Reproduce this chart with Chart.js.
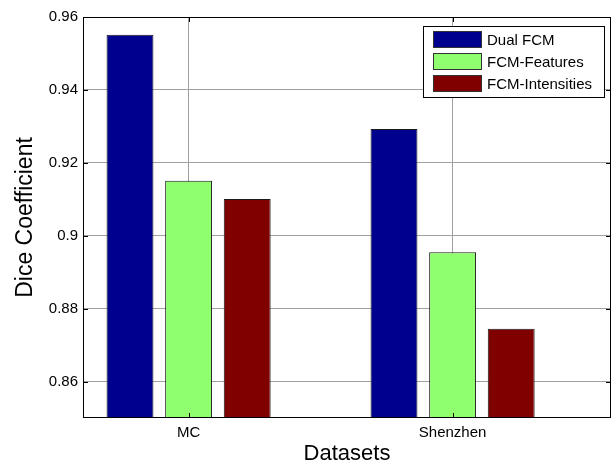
<!DOCTYPE html>
<html><head><meta charset="utf-8">
<script src="https://cdn.jsdelivr.net/npm/chart.js@4/dist/chart.umd.min.js"></script>
<style>html,body{margin:0;padding:0;background:#fff}</style>
</head><body>
<canvas id="c" width="616" height="467"></canvas>
<script>
const categories = ['MC', 'Shenzhen'];
const categoryPositions = [1, 2];
const seriesNames = ['Dual FCM', 'FCM-Features', 'FCM-Intensities'];
const dualFCM = [0.9551, 0.9293];
const fcmFeatures = [0.9151, 0.8955];
const fcmIntensities = [0.9101, 0.8745];
const yTickValues = [0.86, 0.88, 0.90, 0.92, 0.94, 0.96];
const yTickLabels = ['0.86', '0.88', '0.9', '0.92', '0.94', '0.96'];

const FONT = "'Liberation Sans', Arial, Helvetica, sans-serif";
const seriesColors = ['#00008F', '#8FFF70', '#800000'];
const seriesValues = [dualFCM, fcmFeatures, fcmIntensities];

const datasets = seriesNames.map((name, s) => ({
  label: name,
  data: categoryPositions.map((x, i) => ({ x: x, y: seriesValues[s][i] })),
  backgroundColor: seriesColors[s],
  borderColor: '#1a1a1a',
  borderWidth: 1,
  borderSkipped: 'start',
  categoryPercentage: 0.666,
  barPercentage: 0.8
}));

const framePlugin = {
  id: 'matlabFrame',
  afterDraw(chart) {
    const { ctx, chartArea } = chart;
    const L = Math.round(chartArea.left), R = Math.round(chartArea.right);
    const T = Math.round(chartArea.top), B = Math.round(chartArea.bottom);
    ctx.save();
    ctx.strokeStyle = '#000';
    ctx.lineWidth = 1;
    ctx.strokeRect(L + 0.5, T + 0.5, R - L - 1, B - T - 1);
    const tl = 5;
    ctx.beginPath();
    const ys = chart.scales.y;
    yTickValues.forEach(v => {
      const p = Math.round(ys.getPixelForValue(v)) + 0.5;
      ctx.moveTo(L, p); ctx.lineTo(L + tl, p);
      ctx.moveTo(R, p); ctx.lineTo(R - tl, p);
    });
    const xs = chart.scales.x;
    categoryPositions.forEach(v => {
      const p = Math.round(xs.getPixelForValue(v)) + 0.5;
      ctx.moveTo(p, B); ctx.lineTo(p, B - tl);
      ctx.moveTo(p, T); ctx.lineTo(p, T + tl);
    });
    ctx.stroke();

    // legend
    const lw = 181, lh = 71;
    const lx = R - 7 - lw, ly = T + 9;
    ctx.fillStyle = '#fff';
    ctx.fillRect(lx, ly, lw, lh);
    ctx.strokeStyle = '#000';
    ctx.strokeRect(lx + 0.5, ly + 0.5, lw, lh);
    ctx.font = '15px ' + FONT;
    ctx.textBaseline = 'middle';
    ctx.textAlign = 'left';
    chart.data.datasets.forEach((ds, i) => {
      const cy = ly + 13.5 + i * 22;
      ctx.fillStyle = ds.backgroundColor;
      ctx.fillRect(lx + 10, Math.round(cy - 8.5), 49, 17);
      ctx.strokeStyle = '#333';
      ctx.strokeRect(lx + 10.5, Math.round(cy - 8.5) + 0.5, 48, 16);
      ctx.fillStyle = '#000';
      ctx.fillText(ds.label, lx + 64, cy + 1);
    });
    ctx.restore();
  }
};

new Chart(document.getElementById('c'), {
  type: 'bar',
  data: { datasets },
  options: {
    responsive: false,
    animation: false,
    devicePixelRatio: 1,
    layout: { padding: { top: 17, right: 5, left: 0, bottom: 0 } },
    plugins: { legend: { display: false }, tooltip: { enabled: false } },
    scales: {
      x: {
        type: 'linear',
        min: 0.6,
        max: 2.6,
        offset: false,
        afterBuildTicks(scale) { scale.ticks = categoryPositions.map(v => ({ value: v })); },
        afterFit(scale) { scale.height = 49; },
        ticks: {
          color: '#000',
          padding: 6,
          font: { family: FONT, size: 15 },
          callback: (v, i) => categories[i]
        },
        grid: { color: '#a0a0a0', lineWidth: 1, drawTicks: false, offset: false },
        border: { display: false },
        title: {
          display: true, text: 'Datasets', color: '#000',
          font: { family: FONT, size: 22 }, padding: { top: 0, bottom: 0 }
        }
      },
      y: {
        type: 'linear',
        min: 0.85,
        max: 0.96,
        afterBuildTicks(scale) { scale.ticks = yTickValues.map(v => ({ value: v })); },
        afterFit(scale) { scale.width = 83; },
        ticks: {
          color: '#000',
          padding: 5,
          font: { family: FONT, size: 15 },
          callback: (v, i) => yTickLabels[i]
        },
        grid: { color: '#a0a0a0', lineWidth: 1, drawTicks: false },
        border: { display: false },
        title: {
          display: true, text: 'Dice Coefficient', color: '#000',
          font: { family: FONT, size: 23 }, padding: { top: 12, bottom: 0 }
        }
      }
    }
  },
  plugins: [framePlugin]
});
</script>
</body></html>
